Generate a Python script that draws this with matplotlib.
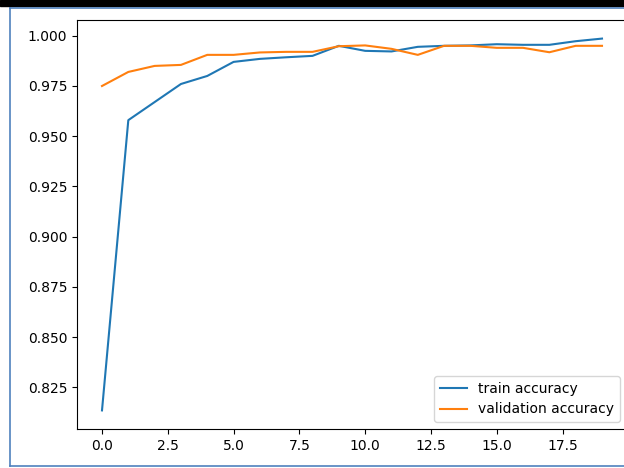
"""
Train / validation accuracy per epoch
"""
import numpy as np
import matplotlib
matplotlib.use('Agg')
import matplotlib.pyplot as plt
from matplotlib.patches import Rectangle
from matplotlib.lines import Line2D

# accuracy values
train_acc = [0.8135, 0.9580, 0.9670, 0.9760, 0.9800, 0.9870, 0.9885, 0.9893, 0.9900, 0.9950,
             0.9925, 0.9922, 0.9945, 0.9950, 0.9952, 0.9958, 0.9955, 0.9955, 0.9973, 0.9986]
val_acc = [0.9750, 0.9820, 0.9850, 0.9855, 0.9905, 0.9905, 0.9917, 0.9920, 0.9920, 0.9948,
           0.9952, 0.9935, 0.9905, 0.9950, 0.9950, 0.9940, 0.9940, 0.9918, 0.9950, 0.9950]
epochs = np.arange(len(train_acc))

W, H = 624, 468
fig = plt.figure(figsize=(W / 100, H / 100), dpi=100)
ax = fig.add_axes([77 / W, (H - 429) / H, 550 / W, 409 / H])

ax.plot(epochs, train_acc, label='train accuracy')
ax.plot(epochs, val_acc, label='validation accuracy')
ax.legend(loc='lower right')

# screenshot frame: black bar on top, blue border round the figure
fig.add_artist(Rectangle((0, 1 - 6 / H), 1, 6 / H, transform=fig.transFigure,
                         color='black', zorder=5))
blue = '#4f81bd'
fig.add_artist(Line2D([10 / W, 10 / W], [1 - 8 / H, 1 - 466 / H], transform=fig.transFigure,
                      color=blue, lw=1.2, zorder=5))
fig.add_artist(Line2D([10 / W, 1], [1 - 8 / H, 1 - 8 / H], transform=fig.transFigure,
                      color=blue, lw=1.2, zorder=5))
fig.add_artist(Line2D([10 / W, 1], [1 - 466 / H, 1 - 466 / H], transform=fig.transFigure,
                      color=blue, lw=1.2, zorder=5))

plt.savefig('out.png', dpi=100)
